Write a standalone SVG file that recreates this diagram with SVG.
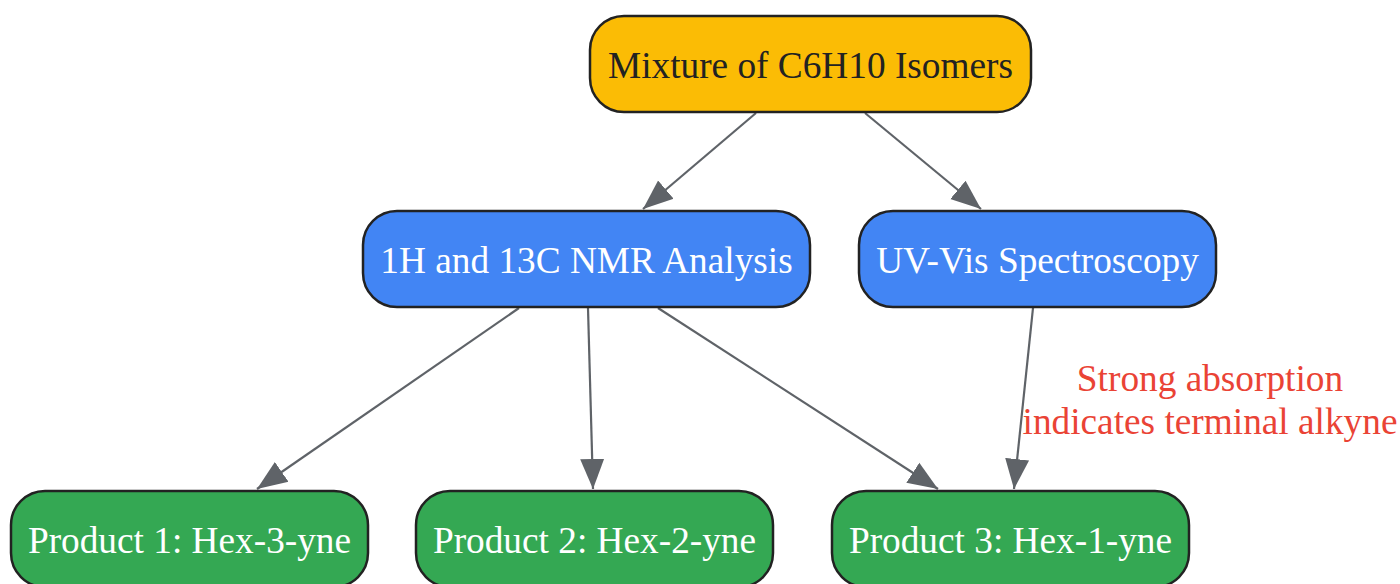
<svg xmlns="http://www.w3.org/2000/svg" width="1400" height="584" viewBox="0 0 1400 584">
<style>
.n rect{stroke:#222;stroke-width:2.5}
.n text{font-family:"Liberation Serif","Times New Roman",serif;font-size:37.3px;text-anchor:middle}
.top rect{fill:#FBBC05}.top text{fill:#222}
.blue rect{fill:#4285F4}.green rect{fill:#34A853}
.blue text,.green text{fill:#fff}
.e{stroke:#5f6368;stroke-width:2.2;fill:none;marker-end:url(#ah)}
.lbl{font-family:"Liberation Serif","Times New Roman",serif;font-size:37.3px;fill:#EA4335;text-anchor:middle}
</style>
<defs>
<marker id="ah" markerUnits="userSpaceOnUse" markerWidth="32" markerHeight="26" refX="30" refY="12" orient="auto" viewBox="0 0 32 24">
<path d="M0,0 L30,12 L0,24 Z" fill="#5f6368"/>
</marker>
</defs>
<rect width="1400" height="584" fill="#fff"/>
<g id="edges">
<line class="e" x1="756" y1="113" x2="643" y2="209"/>
<line class="e" x1="865" y1="113" x2="981" y2="209"/>
<line class="e" x1="519" y1="308" x2="257" y2="489"/>
<line class="e" x1="588" y1="308" x2="593" y2="489"/>
<line class="e" x1="658" y1="308" x2="938" y2="489"/>
<line class="e" x1="1033" y1="308" x2="1014" y2="489"/>
<text class="lbl" x="1210" y="391">Strong absorption</text>
<text class="lbl" x="1210" y="434">indicates terminal alkyne</text>
</g>
<g id="mixture" class="n top">
<rect x="590" y="16" width="441" height="96" rx="34"/>
<text x="810.5" y="78">Mixture of C6H10 Isomers</text>
</g>
<g id="nmr" class="n blue">
<rect x="363" y="211" width="447" height="96" rx="34"/>
<text x="586.5" y="273">1H and 13C NMR Analysis</text>
</g>
<g id="uvvis" class="n blue">
<rect x="859" y="211" width="357" height="96" rx="34"/>
<text x="1037.5" y="273">UV-Vis Spectroscopy</text>
</g>
<g id="p1" class="n green">
<rect x="11" y="491" width="357" height="96" rx="34"/>
<text x="189.5" y="553">Product 1: Hex-3-yne</text>
</g>
<g id="p2" class="n green">
<rect x="416" y="491" width="357" height="96" rx="34"/>
<text x="594.5" y="553">Product 2: Hex-2-yne</text>
</g>
<g id="p3" class="n green">
<rect x="832" y="491" width="357" height="96" rx="34"/>
<text x="1010.5" y="553">Product 3: Hex-1-yne</text>
</g>
</svg>
